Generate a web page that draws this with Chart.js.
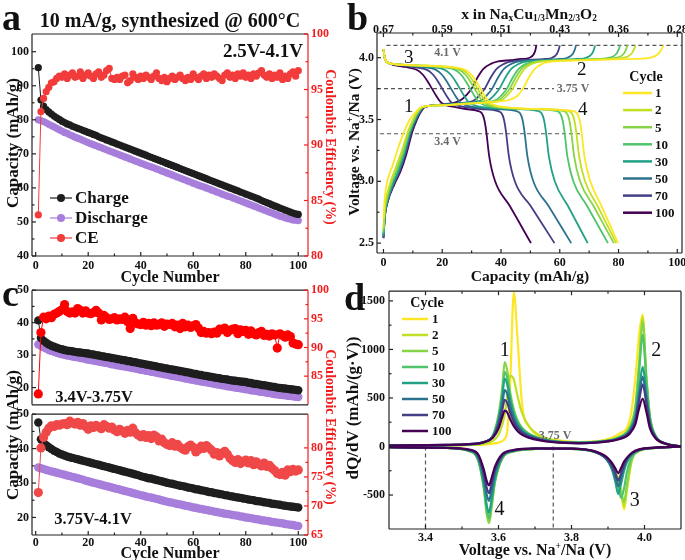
<!DOCTYPE html>
<html>
<head>
<meta charset="utf-8">
<script src="https://cdn.jsdelivr.net/npm/chart.js@4.4.0/dist/chart.umd.min.js"></script>
<style>
  html, body { margin: 0; padding: 0; overflow: hidden; background: #fff; }
  #fig { position: relative; width: 685px; height: 560px; overflow: hidden;
         font-family: 'Liberation Serif', 'Times New Roman', serif; font-weight: bold; color: #111; }
  canvas { position: absolute; }
  .t { position: absolute; white-space: nowrap; line-height: 1; }
  .c { transform: translate(-50%, -50%); }
  .up { transform: translate(-50%, -50%) rotate(-90deg); }
  .dn { transform: translate(-50%, -50%) rotate(90deg); }
  .red { color: #f21c1c; }
  .big { font-size: 38px; }
  sub, sup { font-size: 0.6em; line-height: 0; }
  sub { vertical-align: -0.15em; }
</style>
</head>
<body>
<div id="fig">
  <canvas id="ca" width="345" height="285" style="left:0;top:0"></canvas>
  <canvas id="cb" width="360" height="285" style="left:340px;top:0"></canvas>
  <canvas id="cc1" width="345" height="135" style="left:0;top:280px"></canvas>
  <canvas id="cc2" width="345" height="161" style="left:0;top:404px"></canvas>
  <canvas id="cd" width="360" height="285" style="left:340px;top:280px"></canvas>

  <span class="t big" style="left:2px;top:-2px">a</span>
  <span class="t big" style="left:347px;top:-2px">b</span>
  <span class="t big" style="left:2px;top:274px">c</span>
  <span class="t big" style="left:344px;top:278px">d</span>

  <span class="t c" style="left:170px;top:20px;font-size:20px">10 mA/g, synthesized @ 600°C</span>
  <span class="t c" style="left:263px;top:50px;font-size:19px">2.5V-4.1V</span>
  <span class="t up" style="left:12px;top:143px;font-size:17px">Capacity (mAh/g)</span>
  <span class="t dn red" style="left:330px;top:147px;font-size:14px">Coulombic Efficiency (%)</span>
  <span class="t c" style="left:170px;top:277px;font-size:16px">Cycle Number</span>

  <span class="t c" style="left:529px;top:14px;font-size:15.5px">x in Na<sub>x</sub>Cu<sub>1/3</sub>Mn<sub>2/3</sub>O<sub>2</sub></span>
  <span class="t up" style="left:354px;top:142px;font-size:15.5px">Voltage vs. Na<sup>+</sup>/Na (V)</span>
  <span class="t c" style="left:530px;top:276px;font-size:15.5px">Capacity (mAh/g)</span>

  <span class="t c" style="left:94px;top:397px;font-size:16.5px">3.4V-3.75V</span>
  <span class="t c" style="left:93px;top:519px;font-size:16.5px">3.75V-4.1V</span>
  <span class="t up" style="left:12px;top:435px;font-size:17px">Capacity (mAh/g)</span>
  <span class="t dn red" style="left:330px;top:427px;font-size:14px">Coulombic Efficiency (%)</span>
  <span class="t c" style="left:170px;top:553px;font-size:16px">Cycle Number</span>

  <span class="t up" style="left:352px;top:408px;font-size:17px">dQ/dV (mAh/(g·V))</span>
  <span class="t c" style="left:535px;top:550px;font-size:16px">Voltage vs. Na<sup>+</sup>/Na (V)</span>
</div>

<script>
// ---------- panel a : 2.5-4.1 V cycling ----------
const aCharge = [
  95.3, 85.8, 84.0, 83.0, 82.3, 81.7, 81.1, 80.6, 80.1, 79.6,
  79.2, 78.8, 78.5, 78.1, 77.8, 77.5, 77.2, 76.9, 76.6, 76.3,
  76.0, 75.7, 75.4, 75.0, 74.7, 74.4, 74.1, 73.8, 73.5, 73.2,
  72.9, 72.6, 72.3, 72.0, 71.7, 71.4, 71.1, 70.8, 70.5, 70.2,
  69.9, 69.6, 69.3, 69.0, 68.7, 68.4, 68.1, 67.8, 67.5, 67.2,
  66.9, 66.6, 66.3, 66.0, 65.7, 65.4, 65.1, 64.8, 64.5, 64.2,
  63.9, 63.6, 63.3, 63.0, 62.7, 62.4, 62.1, 61.8, 61.5, 61.2,
  60.9, 60.6, 60.3, 60.0, 59.7, 59.4, 59.1, 58.8, 58.5, 58.2,
  57.9, 57.6, 57.3, 57.0, 56.7, 56.3, 56.0, 55.7, 55.4, 55.0,
  54.7, 54.4, 54.1, 53.8, 53.5, 53.2, 52.9, 52.6, 52.4, 52.2];
const aDischarge = [
  80.0, 79.8, 79.5, 79.1, 78.7, 78.3, 77.9, 77.5, 77.1, 76.7,
  76.3, 76.0, 75.6, 75.3, 74.9, 74.6, 74.3, 74.0, 73.6, 73.3,
  73.0, 72.7, 72.4, 72.1, 71.8, 71.5, 71.2, 70.9, 70.6, 70.3,
  70.0, 69.7, 69.4, 69.1, 68.8, 68.5, 68.2, 67.9, 67.6, 67.3,
  67.0, 66.7, 66.4, 66.2, 65.9, 65.6, 65.3, 65.0, 64.7, 64.4,
  64.1, 63.8, 63.5, 63.2, 62.9, 62.6, 62.3, 62.0, 61.7, 61.4,
  61.1, 60.8, 60.5, 60.3, 60.0, 59.7, 59.4, 59.1, 58.8, 58.5,
  58.2, 57.9, 57.6, 57.4, 57.1, 56.8, 56.5, 56.2, 55.9, 55.6,
  55.3, 55.0, 54.7, 54.4, 54.1, 53.8, 53.5, 53.2, 52.9, 52.6,
  52.3, 52.0, 51.7, 51.5, 51.2, 51.0, 50.8, 50.6, 50.5, 50.4];
const aCE = [
  83.7, 93.0, 94.2, 94.8, 95.2, 95.6, 95.7, 96.0, 96.2, 96.1,
  96.4, 96.0, 96.3, 96.5, 96.1, 96.2, 96.6, 96.0, 96.3, 96.5,
  96.2, 96.0, 96.4, 96.6, 96.1, 96.3, 96.7, 96.9, 96.0, 95.9,
  96.1, 95.9, 96.2, 96.3, 95.6, 95.8, 96.4, 96.1, 95.9, 96.2,
  96.0, 96.3, 96.1, 95.9, 96.2, 96.5, 96.0, 95.8, 96.1, 95.7,
  96.0, 96.2, 95.9, 96.1, 96.3, 96.0, 95.8, 96.1, 95.9, 96.4,
  96.1, 95.9, 96.2, 96.4, 96.0, 96.3, 96.1, 96.4, 96.2, 96.0,
  95.8, 96.3, 96.5, 96.1, 96.3, 96.0, 96.4, 96.2, 96.5, 96.1,
  96.3, 96.0, 96.4, 96.2, 96.5, 96.7, 96.3, 96.1, 96.4, 96.0,
  96.3, 96.1, 96.5, 95.9, 96.2, 96.0, 96.4, 96.6, 96.2, 96.7];

// ---------- panel c : split windows ----------
const lowCharge = [
  40.7, 35.3, 34.4, 33.8, 33.3, 32.9, 32.6, 32.3, 32.0, 31.8,
  31.6, 31.4, 31.3, 31.2, 31.0, 30.9, 30.8, 30.7, 30.6, 30.5,
  30.3, 30.2, 30.0, 29.9, 29.7, 29.6, 29.4, 29.3, 29.1, 29.0,
  28.8, 28.7, 28.5, 28.4, 28.2, 28.1, 27.9, 27.8, 27.6, 27.4,
  27.3, 27.1, 27.0, 26.8, 26.7, 26.5, 26.3, 26.2, 26.0, 25.9,
  25.7, 25.6, 25.4, 25.3, 25.1, 25.0, 24.8, 24.7, 24.5, 24.3,
  24.2, 24.0, 23.9, 23.7, 23.6, 23.4, 23.3, 23.1, 23.0, 22.9,
  22.7, 22.6, 22.5, 22.3, 22.2, 22.1, 22.0, 21.9, 21.8, 21.7,
  21.5, 21.4, 21.2, 21.1, 21.0, 20.8, 20.7, 20.6, 20.4, 20.3,
  20.2, 20.0, 19.9, 19.8, 19.7, 19.6, 19.5, 19.4, 19.3, 19.2];
const lowDischarge = [
  33.3, 32.9, 32.4, 32.0, 31.6, 31.3, 31.0, 30.7, 30.5, 30.3,
  30.1, 29.9, 29.8, 29.6, 29.4, 29.3, 29.1, 29.0, 28.8, 28.6,
  28.5, 28.3, 28.2, 28.0, 27.9, 27.7, 27.6, 27.4, 27.2, 27.1,
  26.9, 26.8, 26.6, 26.5, 26.3, 26.2, 26.0, 25.9, 25.7, 25.5,
  25.4, 25.2, 25.1, 24.9, 24.8, 24.6, 24.4, 24.3, 24.1, 24.0,
  23.8, 23.6, 23.5, 23.3, 23.2, 23.0, 22.8, 22.7, 22.5, 22.4,
  22.2, 22.1, 21.9, 21.8, 21.6, 21.5, 21.3, 21.2, 21.0, 20.9,
  20.7, 20.6, 20.4, 20.3, 20.2, 20.0, 19.9, 19.8, 19.6, 19.5,
  19.4, 19.2, 19.1, 19.0, 18.8, 18.7, 18.6, 18.4, 18.3, 18.2,
  18.0, 17.9, 17.8, 17.7, 17.6, 17.5, 17.4, 17.3, 17.2, 17.1];
const lowCE = [
  81.9, 92.6, 95.3, 95.0, 95.5, 95.2, 95.8, 96.0, 96.3, 96.6,
  97.5, 96.3, 96.0, 96.2, 96.0, 96.8, 96.5, 96.0, 96.4, 96.0,
  95.9, 96.1, 96.5, 96.0, 94.8, 95.6, 95.2, 94.9, 95.0, 95.2,
  94.8, 95.0, 94.9, 95.3, 94.5, 93.3, 95.1, 94.3, 94.1, 94.0,
  94.4, 93.9, 94.2, 93.8, 94.3, 93.9, 94.0, 94.3, 93.7, 94.1,
  94.0, 94.2, 93.6, 93.9, 93.3, 94.2, 93.6, 93.9, 93.5, 93.8,
  94.0, 93.4, 92.6, 92.8, 92.5, 92.6, 92.4, 92.7, 92.5, 93.2,
  93.1, 93.4, 92.6, 93.0, 93.2, 93.3, 92.4, 93.1, 92.8, 93.0,
  92.3, 92.9, 92.4, 92.2, 92.6, 92.8, 92.1, 92.3, 92.0, 92.4,
  92.2, 89.9, 92.4, 92.1, 91.8, 92.2, 91.9, 90.8, 90.6, 90.5];
const highCharge = [
  47.6, 42.7, 41.7, 41.0, 40.4, 39.9, 39.4, 39.0, 38.6, 38.3,
  38.0, 37.7, 37.5, 37.3, 37.1, 36.9, 36.7, 36.5, 36.3, 36.1,
  35.9, 35.7, 35.5, 35.3, 35.1, 34.9, 34.7, 34.5, 34.3, 34.1,
  33.9, 33.7, 33.5, 33.3, 33.1, 32.9, 32.7, 32.5, 32.3, 32.0,
  31.8, 31.6, 31.4, 31.3, 31.1, 30.9, 30.7, 30.5, 30.3, 30.1,
  29.9, 29.8, 29.6, 29.4, 29.2, 29.1, 28.9, 28.7, 28.6, 28.4,
  28.2, 28.1, 27.9, 27.8, 27.6, 27.4, 27.3, 27.1, 27.0, 26.8,
  26.7, 26.5, 26.4, 26.2, 26.1, 25.9, 25.8, 25.7, 25.5, 25.4,
  25.2, 25.1, 25.0, 24.8, 24.7, 24.6, 24.4, 24.3, 24.2, 24.0,
  23.9, 23.8, 23.7, 23.5, 23.4, 23.3, 23.2, 23.1, 23.0, 22.9];
const highDischarge = [
  34.5, 34.3, 34.1, 33.8, 33.6, 33.4, 33.2, 33.0, 32.8, 32.6,
  32.4, 32.2, 32.0, 31.8, 31.6, 31.4, 31.2, 31.0, 30.7, 30.5,
  30.3, 30.1, 29.9, 29.7, 29.5, 29.3, 29.1, 28.9, 28.7, 28.5,
  28.3, 28.1, 27.9, 27.7, 27.5, 27.3, 27.1, 26.9, 26.7, 26.5,
  26.3, 26.1, 25.9, 25.8, 25.6, 25.4, 25.2, 25.0, 24.8, 24.6,
  24.4, 24.3, 24.1, 23.9, 23.8, 23.6, 23.4, 23.3, 23.1, 22.9,
  22.8, 22.6, 22.5, 22.3, 22.2, 22.0, 21.9, 21.7, 21.6, 21.4,
  21.3, 21.1, 21.0, 20.9, 20.7, 20.6, 20.5, 20.3, 20.2, 20.0,
  19.9, 19.8, 19.6, 19.5, 19.4, 19.2, 19.1, 19.0, 18.9, 18.7,
  18.6, 18.5, 18.4, 18.3, 18.1, 18.0, 17.9, 17.8, 17.6, 17.5];
const highCE = [
  72.3, 80.0, 81.8, 82.7, 83.4, 83.8, 83.7, 84.0, 83.9, 84.1,
  84.2, 84.0, 84.6, 84.3, 84.1, 84.4, 83.9, 84.2, 83.7, 83.2,
  83.8, 83.5, 83.9, 83.6, 83.3, 84.0, 83.7, 83.4, 83.6, 83.1,
  82.8, 83.2, 82.9, 82.5, 83.0, 82.7, 83.4, 82.6, 82.2, 81.9,
  82.3, 81.8, 82.1, 81.6, 82.2, 81.9, 81.2, 81.5, 80.9, 80.6,
  80.4, 80.9, 80.3, 80.6, 80.1, 79.8, 79.6, 80.2, 80.5, 80.1,
  79.3, 79.7, 80.3, 79.9, 80.4, 80.0, 79.6, 78.9, 79.2, 78.6,
  79.1, 79.4, 78.9, 78.2, 77.8, 77.5, 78.0, 77.3, 77.6, 77.9,
  77.4, 77.8, 77.1, 77.6, 77.2, 76.9, 77.4, 76.8, 77.0, 76.5,
  76.1, 75.6, 75.4, 75.8, 75.3, 76.2, 75.9, 76.3, 76.0, 76.2];

// ---------- panel b : voltage profiles [capacity, V] ----------
const cycleLabels = ['1', '2', '5', '10', '30', '50', '70', '100'];
const chg_1 = [[0,2.70],[0.5,2.88],[1.5,3.02],[3,3.12],[5,3.27],[7,3.40],[9,3.50],[11,3.56],[13,3.60],[20,3.615],[30,3.63],[38,3.645],[43,3.66],[45.5,3.69],[47.5,3.75],[49.5,3.84],[51.5,3.91],[54,3.95],[58,3.97],[70,3.98],[85,3.99],[91,4.0],[93.5,4.03],[94.7,4.07],[95.3,4.1]];
const chg_2 = [[0,2.62],[0.5,2.8],[1.5,2.92],[2.5,3.0],[4,3.1],[6,3.23],[8.3,3.4],[10,3.5],[11.5,3.56],[13,3.6],[20,3.615],[30,3.63],[37,3.64],[40.5,3.66],[42.3,3.7],[44,3.75],[46,3.84],[48,3.91],[50.5,3.95],[54,3.97],[65,3.98],[78,3.99],[82,4.0],[84.3,4.03],[85.3,4.07],[85.8,4.1]];
const chg_5 = [[0,2.6],[0.5,2.78],[1.5,2.9],[2.8,3.0],[4.5,3.1],[6.5,3.23],[8.6,3.4],[10.3,3.5],[11.7,3.56],[13.2,3.6],[20,3.615],[29,3.63],[36,3.64],[39.5,3.66],[41.3,3.7],[43,3.75],[45,3.84],[47,3.91],[49.5,3.95],[53,3.97],[63,3.98],[75,3.99],[79.5,4.0],[81.7,4.03],[82.6,4.07],[83,4.1]];
const chg_10 = [[0,2.58],[0.5,2.76],[1.5,2.88],[3,3.0],[4.8,3.1],[6.8,3.23],[8.8,3.4],[10.5,3.5],[11.9,3.56],[13.3,3.6],[20,3.615],[28,3.63],[35,3.64],[38.5,3.66],[40.3,3.7],[42,3.75],[44,3.84],[46,3.91],[48.5,3.95],[52,3.97],[61,3.98],[73,3.99],[77,4.0],[79.2,4.03],[80.1,4.07],[80.5,4.1]];
const chg_30 = [[0,2.56],[0.5,2.74],[1.5,2.86],[3.2,2.98],[5,3.08],[7,3.22],[9,3.4],[10.7,3.5],[12.1,3.56],[13.5,3.6],[20,3.617],[27,3.63],[33,3.64],[36,3.66],[37.8,3.7],[39.5,3.75],[41.5,3.84],[43.5,3.91],[46,3.95],[49,3.97],[57,3.98],[66,3.99],[69,4.0],[70.9,4.03],[71.7,4.07],[72,4.1]];
const chg_50 = [[0,2.55],[0.5,2.73],[1.5,2.85],[3.4,2.98],[5.2,3.08],[7.2,3.22],[9.3,3.4],[11,3.5],[12.3,3.56],[13.7,3.6],[20,3.62],[26,3.63],[31,3.64],[33.6,3.66],[35.3,3.7],[37,3.75],[39,3.84],[41,3.91],[43.5,3.95],[46,3.97],[52,3.98],[60,3.99],[62.6,4.0],[64.4,4.03],[65.2,4.07],[65.5,4.1]];
const chg_70 = [[0,2.54],[0.5,2.72],[1.5,2.84],[3.6,2.98],[5.5,3.08],[7.5,3.22],[9.5,3.4],[11.2,3.5],[12.5,3.56],[13.9,3.6],[20,3.62],[25,3.63],[29,3.64],[31.2,3.66],[32.8,3.7],[34.5,3.75],[36.5,3.84],[38.5,3.91],[41,3.95],[43.5,3.97],[48,3.98],[55,3.99],[57.4,4.0],[59,4.03],[59.7,4.07],[60,4.1]];
const chg_100 = [[0,2.54],[0.5,2.72],[1.5,2.84],[3.8,2.98],[5.8,3.08],[7.8,3.22],[9.8,3.4],[11.4,3.5],[12.7,3.56],[14,3.6],[18,3.615],[21,3.625],[24,3.635],[26.5,3.66],[28.3,3.7],[30,3.75],[32,3.84],[34,3.91],[36.5,3.95],[39,3.97],[43,3.98],[47,3.99],[49.7,4.0],[51.2,4.03],[51.8,4.07],[52,4.1]];
const dis_1 = [[0,4.07],[0.4,4.0],[1.5,3.96],[5,3.945],[15,3.935],[23,3.925],[28,3.9],[30,3.86],[31.5,3.81],[33,3.75],[34.5,3.69],[36,3.64],[38,3.615],[41,3.6],[52,3.585],[64,3.57],[65.9,3.55],[66.7,3.5],[67.4,3.4],[68.4,3.2],[70.4,3.0],[74.2,2.8],[79.8,2.5]];
const dis_2 = [[0,4.07],[0.4,4.0],[1.5,3.96],[5,3.945],[15,3.935],[22,3.925],[27,3.9],[29,3.86],[30.5,3.81],[32,3.75],[33.5,3.69],[35,3.64],[37,3.615],[40,3.6],[51,3.585],[62.6,3.57],[64.1,3.55],[64.9,3.5],[65.6,3.4],[66.6,3.2],[68.6,3.0],[72.9,2.8],[79.2,2.5]];
const dis_5 = [[0,4.07],[0.4,4.0],[1.5,3.96],[5,3.945],[14,3.935],[21,3.925],[26,3.9],[28,3.86],[29.5,3.81],[31,3.75],[32.5,3.69],[34,3.64],[36,3.615],[39,3.6],[50,3.585],[60.9,3.57],[62.4,3.55],[63.2,3.5],[63.9,3.4],[64.9,3.2],[66.9,3.0],[71.5,2.8],[78.4,2.5]];
const dis_10 = [[0,4.07],[0.4,4.0],[1.5,3.96],[5,3.945],[13,3.935],[19.5,3.925],[24.5,3.9],[26.5,3.86],[28,3.81],[29.5,3.75],[31,3.69],[32.5,3.64],[34.5,3.615],[37.5,3.6],[48,3.585],[58.6,3.57],[60.1,3.55],[60.9,3.5],[61.6,3.4],[62.6,3.2],[64.6,3.0],[69.3,2.8],[76.4,2.5]];
const dis_30 = [[0,4.07],[0.4,4.0],[1.5,3.96],[5,3.945],[11,3.935],[16,3.925],[21,3.9],[23,3.86],[24.5,3.81],[26,3.75],[27.5,3.69],[29,3.64],[31,3.615],[34,3.6],[43,3.585],[52.3,3.57],[53.8,3.55],[54.6,3.5],[55.3,3.4],[56.3,3.2],[58.3,3.0],[62.8,2.8],[69.5,2.5]];
const dis_50 = [[0,4.07],[0.4,4.0],[1.5,3.96],[5,3.945],[9,3.935],[13,3.925],[18,3.9],[20,3.86],[21.5,3.81],[23,3.75],[24.5,3.69],[26,3.64],[28,3.615],[31,3.6],[38,3.585],[45,3.57],[46.5,3.55],[47.3,3.5],[48,3.4],[49,3.2],[51,3.0],[56.2,2.8],[63.9,2.5]];
const dis_70 = [[0,4.07],[0.4,4.0],[1.5,3.96],[4,3.945],[7,3.935],[10,3.925],[15,3.9],[17,3.86],[18.5,3.81],[20,3.75],[21.5,3.69],[23,3.64],[25,3.615],[28,3.6],[33,3.585],[38.7,3.57],[40.2,3.55],[41,3.5],[41.7,3.4],[42.7,3.2],[44.7,3.0],[50.1,2.8],[58.2,2.5]];
const dis_100 = [[0,4.07],[0.4,4.0],[1.5,3.96],[3,3.945],[5,3.935],[7.5,3.925],[11.5,3.9],[13.5,3.86],[15,3.81],[16.5,3.75],[18,3.69],[19.5,3.64],[21.5,3.615],[24.5,3.6],[28,3.585],[32,3.57],[33.5,3.55],[34.3,3.5],[35,3.4],[36,3.2],[38,3.0],[43,2.8],[50.2,2.5]];
const chgCurves = [chg_1, chg_2, chg_5, chg_10, chg_30, chg_50, chg_70, chg_100];
const disCurves = [dis_1, dis_2, dis_5, dis_10, dis_30, dis_50, dis_70, dis_100];
const refVolt = [4.1, 3.75, 3.385];
const refFrom = [1, -2.2, -1.2];
const refTo = [101.6, 58, 67];

// ---------- panel d : dQ/dV ----------
const vCh = [3.30, 3.45, 3.52, 3.56, 3.585, 3.60, 3.61, 3.617, 3.624, 3.632, 3.642, 3.652, 3.665, 3.685, 3.71, 3.75, 3.82, 3.88, 3.93, 3.96, 3.975, 3.985, 3.995, 4.005, 4.015, 4.03, 4.06, 4.10];
const dqc_1 = [8, 12, 15, 20, 30, 40, 55, 80, 160, 650, 1590, 1120, 420, 200, 110, 70, 45, 60, 130, 280, 700, 1150, 1360, 650, 250, 90, 25, 0];
const dqc_2 = [8, 13, 18, 30, 60, 120, 220, 330, 520, 730, 690, 520, 340, 200, 120, 65, 42, 55, 100, 210, 420, 850, 1330, 720, 300, 110, 28, 0];
const dqc_5 = [8, 14, 22, 45, 120, 330, 600, 870, 780, 560, 380, 270, 190, 130, 90, 55, 40, 52, 95, 200, 400, 820, 1290, 730, 310, 115, 28, 0];
const dqc_10 = [8, 14, 22, 45, 115, 300, 540, 770, 700, 520, 360, 260, 185, 125, 88, 54, 40, 52, 92, 190, 380, 760, 1150, 690, 300, 112, 28, 0];
const dqc_30 = [8, 14, 22, 45, 110, 280, 500, 700, 640, 480, 330, 240, 170, 118, 84, 52, 38, 50, 88, 170, 320, 580, 820, 560, 260, 105, 27, 0];
const dqc_50 = [9, 15, 23, 45, 105, 250, 430, 580, 540, 410, 290, 215, 155, 110, 78, 50, 37, 48, 84, 160, 290, 520, 720, 500, 240, 100, 27, 0];
const dqc_70 = [10, 16, 24, 45, 100, 220, 370, 480, 450, 350, 255, 190, 140, 100, 72, 47, 35, 46, 80, 150, 265, 470, 640, 450, 220, 95, 26, 0];
const dqc_100 = [10, 16, 24, 44, 92, 185, 300, 370, 350, 280, 210, 160, 120, 88, 65, 44, 33, 44, 75, 135, 230, 390, 490, 360, 185, 85, 25, 0];
const vDis = [3.30, 3.45, 3.52, 3.545, 3.56, 3.568, 3.574, 3.58, 3.59, 3.61, 3.64, 3.70, 3.80, 3.86, 3.895, 3.91, 3.92, 3.928, 3.936, 3.944, 3.952, 3.965, 3.985, 4.03, 4.10];
const dqd_1 = [-8, -15, -45, -140, -400, -640, -720, -600, -350, -120, -50, -25, -25, -50, -110, -170, -240, -330, -450, -650, -450, -150, -50, -15, 0];
const dqd_2 = [-8, -15, -48, -150, -430, -690, -780, -650, -370, -125, -52, -26, -25, -52, -115, -180, -255, -350, -470, -620, -430, -145, -48, -15, 0];
const dqd_5 = [-8, -15, -48, -150, -440, -700, -790, -660, -375, -125, -52, -26, -25, -52, -118, -185, -265, -360, -470, -570, -390, -135, -45, -15, 0];
const dqd_10 = [-8, -15, -46, -145, -420, -660, -740, -620, -360, -122, -50, -25, -25, -52, -120, -195, -290, -410, -530, -430, -260, -110, -42, -14, 0];
const dqd_30 = [-8, -15, -44, -135, -390, -610, -680, -570, -335, -115, -48, -24, -24, -52, -130, -230, -360, -490, -380, -250, -160, -85, -38, -13, 0];
const dqd_50 = [-8, -15, -40, -115, -330, -500, -560, -470, -280, -100, -44, -23, -23, -50, -125, -210, -315, -410, -320, -215, -140, -78, -36, -13, 0];
const dqd_70 = [-8, -15, -36, -100, -285, -430, -480, -405, -245, -90, -40, -22, -22, -48, -118, -190, -275, -350, -275, -190, -125, -72, -34, -12, 0];
const dqd_100 = [-8, -14, -32, -85, -240, -360, -400, -340, -210, -80, -37, -20, -21, -45, -105, -165, -225, -275, -220, -155, -115, -65, -30, -11, 0];
const dqCharge = [dqc_1, dqc_2, dqc_5, dqc_10, dqc_30, dqc_50, dqc_70, dqc_100];
const dqDischarge = [dqd_1, dqd_2, dqd_5, dqd_10, dqd_30, dqd_50, dqd_70, dqd_100];
const dqRefV = [3.4, 3.75];

// ---------- tick values / labels ----------
const cycTicks = [0, 20, 40, 60, 80, 100];
const cycTickLabels = ['0', '20', '40', '60', '80', '100'];
const aCapTicks = [40, 50, 60, 70, 80, 90, 100];
const aCapLabels = ['40', '50', '60', '70', '80', '90', '100'];
const aCeTicks = [80, 85, 90, 95, 100];
const aCeLabels = ['80', '85', '90', '95', '100'];
const cCapTicks = [20, 30, 40, 50];
const cCapLabels = ['20', '30', '40', '50'];
const cLowCeTicks = [85, 90, 95, 100];
const cLowCeLabels = ['85', '90', '95', '100'];
const cHighCeTicks = [65, 70, 75, 80];
const cHighCeLabels = ['65', '70', '75', '80'];
const bCapTicks = [0, 20, 40, 60, 80, 100];
const bCapLabels = ['0', '20', '40', '60', '80', '100'];
const bXnaLabels = ['0.67', '0.59', '0.51', '0.43', '0.36', '0.28'];
const bVoltTicks = [2.5, 3.0, 3.5, 4.0];
const bVoltLabels = ['2.5', '3.0', '3.5', '4.0'];
const dVoltTicks = [3.4, 3.6, 3.8, 4.0];
const dVoltLabels = ['3.4', '3.6', '3.8', '4.0'];
const dDqTicks = [-500, 0, 500, 1000, 1500];
const dDqLabels = ['-500', '0', '500', '1000', '1500'];

// ---------- styling ----------
const VIRIDIS = ['#fde725', '#c2df23', '#86d549', '#4fc46a', '#22a185', '#2c728e', '#433e85', '#440154'];
const BLACK = '#1e1e1e';
const PURPLE = '#a87edc';
const RED_A = '#f23c3c';
const RED = '#f21c1c';
const SERIF = "'Liberation Serif', 'Times New Roman', serif";

Chart.defaults.font.family = SERIF;
Chart.defaults.font.size = 12;
Chart.defaults.font.weight = 'bold';
Chart.defaults.color = '#111';
Chart.defaults.animation = false;
Chart.defaults.events = [];
Chart.defaults.plugins.legend.display = false;
Chart.defaults.plugins.tooltip.enabled = false;

const cycleNo = aCharge.map((_, i) => i + 1);
const pts = (xs, ys) => ys.map((y, i) => ({ x: xs[i], y: y }));
const pairs = list => list.map(p => ({ x: p[0], y: p[1] }));

function axis(o) {
  return {
    type: 'linear', axis: o.axis, position: o.pos, min: o.min, max: o.max, display: o.display !== false,
    grid: { display: false, drawTicks: false },
    border: { display: false },
    ticks: { color: o.color || '#111', padding: o.pad == null ? 3 : o.pad, autoSkip: false, maxRotation: 0,
             callback: (v, i) => o.labels[i] },
    afterBuildTicks: s => { s.ticks = o.ticks.map(v => ({ value: v })); },
    afterFit: s => { if (s.isHorizontal()) s.height = o.size; else s.width = o.size; }
  };
}

function dots(data, color, yId, r) {
  return { data: data, yAxisID: yId, showLine: true, borderColor: color, backgroundColor: color,
           borderWidth: 1, pointRadius: r, pointBorderWidth: 0 };
}

function curve(data, color, w) {
  return { data: data, showLine: true, borderColor: color, borderWidth: w, pointRadius: 0,
           cubicInterpolationMode: 'monotone' };
}

function dashed(data, color) {
  return { data: data, showLine: true, borderColor: color, borderWidth: 1.2, borderDash: [4, 3], pointRadius: 0 };
}

// extra drawing per canvas: frame, inner ticks, notes, keys
const extras = {};

const framePlugin = {
  id: 'frame',
  afterDatasetsDraw(chart) {
    const e = extras[chart.canvas.id];
    if (!e) return;
    const ctx = chart.ctx, a = chart.chartArea;
    ctx.save();
    ctx.lineWidth = 1.2;
    const seg = (c, x1, y1, x2, y2) => {
      ctx.strokeStyle = c; ctx.beginPath(); ctx.moveTo(x1, y1); ctx.lineTo(x2, y2); ctx.stroke();
    };
    const ed = e.edge;
    seg(ed[0], a.left, a.top, a.right, a.top);
    seg(ed[1], a.right, a.top, a.right, a.bottom);
    seg(ed[2], a.left, a.bottom, a.right, a.bottom);
    seg(ed[3], a.left, a.top, a.left, a.bottom);
    (e.marks || []).forEach(m => {
      const s = chart.scales[m[0]], side = m[1], c = m[2] || '#222';
      const v = s.ticks.map(t => t.value);
      const mids = v.slice(1).map((t, i) => (t + v[i]) / 2);
      [[v, 4], [mids, 2.5]].forEach(([list, len]) => list.forEach(val => {
        const p = s.getPixelForValue(val);
        if (side === 'bottom') seg(c, p, a.bottom, p, a.bottom - len);
        if (side === 'top') seg(c, p, a.top, p, a.top + len);
        if (side === 'left') seg(c, a.left, p, a.left + len, p);
        if (side === 'right') seg(c, a.right, p, a.right - len, p);
      }));
    });
    (e.notes || []).forEach(n => {
      const x = chart.scales[n.xs || 'x'].getPixelForValue(n.x);
      const y = chart.scales[n.ys || 'y'].getPixelForValue(n.y);
      ctx.font = n.font;
      ctx.fillStyle = n.color || '#111';
      ctx.textAlign = n.align || 'center';
      ctx.textBaseline = 'middle';
      ctx.fillText(n.t, x, y);
    });
    const k = e.keys;
    if (k) {
      if (k.title) {
        ctx.font = k.titleFont; ctx.fillStyle = '#111'; ctx.textAlign = 'center'; ctx.textBaseline = 'middle';
        ctx.fillText(k.title, k.tx, k.ty);
      }
      k.items.forEach((it, i) => {
        const y = k.y0 + i * k.dy;
        ctx.strokeStyle = it.color; ctx.lineWidth = k.lw;
        ctx.beginPath(); ctx.moveTo(k.x0, y); ctx.lineTo(k.x1, y); ctx.stroke();
        if (k.r) {
          ctx.fillStyle = it.color; ctx.beginPath();
          ctx.arc((k.x0 + k.x1) / 2, y, k.r, 0, Math.PI * 2); ctx.fill();
        }
        ctx.font = k.font; ctx.fillStyle = '#111'; ctx.textAlign = 'left'; ctx.textBaseline = 'middle';
        ctx.fillText(it.label, k.lx, y + 1);
      });
    }
    ctx.restore();
  }
};
Chart.register(framePlugin);

function make(id, datasets, scales, pad) {
  return new Chart(document.getElementById(id), {
    type: 'scatter',
    data: { datasets: datasets },
    options: { responsive: false, devicePixelRatio: 1, layout: { padding: pad }, scales: scales }
  });
}

// ---------- panel a ----------
extras.ca = {
  edge: ['#222', RED, '#222', '#222'],
  marks: [['x', 'bottom'], ['y', 'left'], ['y2', 'right', RED]],
  keys: { x0: 50, x1: 72, lx: 75, y0: 198, dy: 20, lw: 1.2, r: 4, font: 'bold 17px ' + SERIF,
          items: [{ label: 'Charge', color: BLACK }, { label: 'Discharge', color: PURPLE }, { label: 'CE', color: RED_A }] }
};
make('ca', [
  dots(pts(cycleNo, aCE), RED_A, 'y2', 3.6),
  dots(pts(cycleNo, aCharge), BLACK, 'y', 3.6),
  dots(pts(cycleNo, aDischarge), PURPLE, 'y', 3.6)
], {
  x: axis({ axis: 'x', pos: 'bottom', min: -1.4, max: 103.7, ticks: cycTicks, labels: cycTickLabels, size: 29 }),
  y: axis({ axis: 'y', pos: 'left', min: 40, max: 105.2, ticks: aCapTicks, labels: aCapLabels, size: 32 }),
  y2: axis({ axis: 'y', pos: 'right', min: 80, max: 100, ticks: aCeTicks, labels: aCeLabels, size: 37, color: RED })
}, { top: 34, left: 0, right: 0, bottom: 0 });

// ---------- panel b ----------
const bSets = [];
for (let i = chgCurves.length - 1; i >= 0; i--) {
  bSets.push(curve(pairs(chgCurves[i]), VIRIDIS[i], 1.8));
  bSets.push(curve(pairs(disCurves[i]), VIRIDIS[i], 1.8));
}
bSets.reverse();
refVolt.forEach((v, i) => bSets.push(dashed([{ x: refFrom[i], y: v }, { x: refTo[i], y: v }], '#555')));
const GRAYNOTE = 'bold 12px ' + SERIF;
const PEAKNOTE = '19px ' + SERIF;
extras.cb = {
  edge: ['#222', '#222', '#222', '#222'],
  marks: [['x', 'bottom'], ['x', 'top'], ['y', 'left']],
  notes: [
    { t: '1', x: 8.6, y: 3.60, font: PEAKNOTE }, { t: '2', x: 67.5, y: 3.90, font: PEAKNOTE },
    { t: '3', x: 8.6, y: 4.0, font: PEAKNOTE }, { t: '4', x: 67.8, y: 3.58, font: PEAKNOTE },
    { t: '4.1 V', x: 21.8, y: 4.035, font: GRAYNOTE, color: '#6a6a6a' },
    { t: '3.4 V', x: 21.8, y: 3.32, font: GRAYNOTE, color: '#6a6a6a' },
    { t: '3.75 V', x: 59, y: 3.75, font: GRAYNOTE, color: '#6a6a6a', align: 'left' }
  ],
  keys: { title: 'Cycle', tx: 306, ty: 77, titleFont: 'bold 14px ' + SERIF, x0: 283, x1: 312, lx: 315, y0: 93, dy: 17.1,
          lw: 2.5, font: 'bold 13px ' + SERIF, items: cycleLabels.map((l, i) => ({ label: l, color: VIRIDIS[i] })) }
};
make('cb', bSets, {
  x: axis({ axis: 'x', pos: 'bottom', min: -2.2, max: 101.6, ticks: bCapTicks, labels: bCapLabels, size: 32 }),
  x2: axis({ axis: 'x', pos: 'top', min: -2.2, max: 101.6, ticks: bCapTicks, labels: bXnaLabels, size: 33, pad: -4 }),
  y: axis({ axis: 'y', pos: 'left', min: 2.42, max: 4.2, ticks: bVoltTicks, labels: bVoltLabels, size: 37 })
}, { top: 0, left: 0, right: 18, bottom: 0 });

// ---------- panel c (upper: 3.4-3.75 V, lower: 3.75-4.1 V) ----------
extras.cc1 = {
  edge: ['#222', RED, '#222', '#222'],
  marks: [['y', 'left'], ['y2', 'right', RED]]
};
make('cc1', [
  dots(pts(cycleNo, lowCE), '#ff0000', 'y2', 4.6),
  dots(pts(cycleNo, lowCharge), BLACK, 'y', 4.2),
  dots(pts(cycleNo, lowDischarge), PURPLE, 'y', 4.2)
], {
  x: axis({ axis: 'x', pos: 'bottom', min: -1.4, max: 103.7, ticks: cycTicks, labels: cycTickLabels, size: 0, display: false }),
  y: axis({ axis: 'y', pos: 'left', min: 14.7, max: 50, ticks: cCapTicks, labels: cCapLabels, size: 32 }),
  y2: axis({ axis: 'y', pos: 'right', min: 80, max: 100, ticks: cLowCeTicks, labels: cLowCeLabels, size: 37, color: RED })
}, { top: 8, left: 0, right: 0, bottom: 3 });

extras.cc2 = {
  edge: ['#222', RED, '#222', '#222'],
  marks: [['x', 'bottom'], ['y', 'left'], ['y2', 'right', RED]]
};
make('cc2', [
  dots(pts(cycleNo, highCE), '#f04848', 'y2', 4.6),
  dots(pts(cycleNo, highCharge), BLACK, 'y', 4.2),
  dots(pts(cycleNo, highDischarge), PURPLE, 'y', 4.2)
], {
  x: axis({ axis: 'x', pos: 'bottom', min: -1.4, max: 103.7, ticks: cycTicks, labels: cycTickLabels, size: 30, pad: 1 }),
  y: axis({ axis: 'y', pos: 'left', min: 14.9, max: 50, ticks: cCapTicks, labels: cCapLabels, size: 32 }),
  y2: axis({ axis: 'y', pos: 'right', min: 65, max: 85.8, ticks: cHighCeTicks, labels: cHighCeLabels, size: 37, color: RED })
}, { top: 8, left: 0, right: 0, bottom: 0 });

// ---------- panel d ----------
const dSets = [];
for (let i = 0; i < dqCharge.length; i++) {
  dSets.push(curve(pts(vCh, dqCharge[i]), VIRIDIS[i], 2.2));
  dSets.push(curve(pts(vDis, dqDischarge[i]), VIRIDIS[i], 2.2));
}
dSets.reverse();
dqRefV.forEach(v => dSets.push(dashed([{ x: v, y: 0 }, { x: v, y: -850 }], '#555')));
extras.cd = {
  edge: ['#222', '#222', '#222', '#222'],
  marks: [['x', 'bottom'], ['x', 'top'], ['y', 'left']],
  notes: [
    { t: '1', x: 3.617, y: 990, font: '20px ' + SERIF }, { t: '2', x: 4.032, y: 990, font: '20px ' + SERIF },
    { t: '3', x: 3.973, y: -555, font: '20px ' + SERIF }, { t: '4', x: 3.603, y: -650, font: '20px ' + SERIF },
    { t: '3.75 V', x: 3.755, y: 110, font: GRAYNOTE, color: '#6a6a6a' }
  ],
  keys: { title: 'Cycle', tx: 87, ty: 23, titleFont: 'bold 14px ' + SERIF, x0: 62, x1: 88, lx: 92, y0: 39, dy: 16,
          lw: 2.5, font: 'bold 13px ' + SERIF, items: cycleLabels.map((l, i) => ({ label: l, color: VIRIDIS[i] })) }
};
make('cd', dSets, {
  x: axis({ axis: 'x', pos: 'bottom', min: 3.3, max: 4.1, ticks: dVoltTicks, labels: dVoltLabels, size: 36, pad: 2 }),
  y: axis({ axis: 'y', pos: 'left', min: -850, max: 1600, ticks: dDqTicks, labels: dDqLabels, size: 49, pad: 4 })
}, { top: 6, left: 0, right: 19, bottom: 0 });
</script>
</body>
</html>
